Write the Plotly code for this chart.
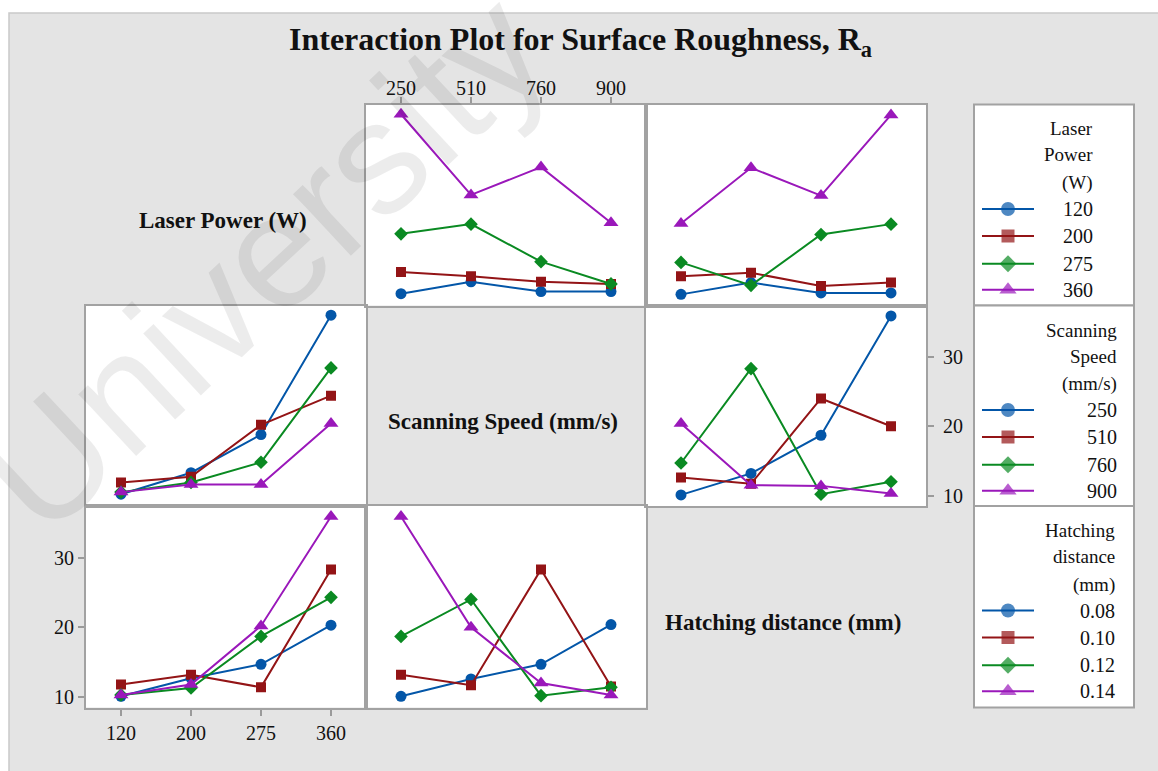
import plotly.graph_objects as go

W, H = 1158, 771

# ---------------- data (mean Ra) ----------------
laser_power = ["120", "200", "275", "360"]
scan_speed = ["250", "510", "760", "900"]
hatch_dist = ["0.08", "0.10", "0.12", "0.14"]

# rows = laser power level, cols = scanning speed level
ra_lp_ss = [
    [10.2, 11.9, 10.5, 10.5],
    [13.3, 12.7, 11.9, 11.6],
    [18.8, 20.2, 14.8, 11.6],
    [36.0, 24.4, 28.4, 20.4],
]
# rows = laser power level, cols = hatching distance level
ra_lp_hd = [
    [10.1, 11.8, 10.3, 10.3],
    [12.7, 13.2, 11.3, 11.8],
    [14.7, 11.4, 18.7, 20.2],
    [20.3, 28.3, 24.3, 35.9],
]
# rows = scanning speed level, cols = hatching distance level
ra_ss_hd = [
    [10.1, 13.2, 18.7, 35.9],
    [12.6, 11.7, 24.0, 20.0],
    [14.7, 28.3, 10.2, 12.0],
    [20.4, 11.5, 11.4, 10.3],
]

factor_names = ["Laser Power (W)", "Scanning Speed (mm/s)", "Hatching distance (mm)"]
legend_titles = ["Laser<br>Power<br>(W)", "Scanning<br>Speed<br>(mm/s)", "Hatching<br>distance<br>(mm)"]
levels = [laser_power, scan_speed, hatch_dist]
y_ticks = [10, 20, 30]


def transpose(m):
    return [list(r) for r in zip(*m)]


cell = {
    (0, 1): ra_lp_ss,
    (0, 2): ra_lp_hd,
    (1, 0): transpose(ra_lp_ss),
    (1, 2): ra_ss_hd,
    (2, 0): transpose(ra_lp_hd),
    (2, 1): transpose(ra_ss_hd),
}

# ---------------- styles / layout ----------------
colors = ["#0356A8", "#931416", "#0A8A22", "#9A18BA"]
symbols = ["circle", "square", "diamond", "triangle-up"]
panel_sizes = [11, 10, 10.5, 13]
legend_sizes = [14, 13, 13, 15]
SERIF = "Liberation Serif, Times New Roman, serif"
BG = "#E4E4E4"
BORDER = "#A2A2A2"
TXT = "#111111"

col_edges = [86, 366, 646, 926]
row_edges = [104.5, 305.5, 506, 707.5]
leg_x = (974, 1134)
leg_right = [1095, 1119, 1117]
Y_RANGE = [8.5, 37.4]


def fx(px):
    return px / W


def fy(py):
    return 1 - py / H


fig = go.Figure()
layout = dict(
    width=W, height=H,
    margin=dict(l=0, r=0, t=0, b=0),
    paper_bgcolor="white",
    plot_bgcolor="rgba(0,0,0,0)",
    showlegend=False,
    font=dict(family=SERIF, color=TXT, size=20),
)
shapes = []
annotations = []

# figure frame background
shapes.append(dict(type="rect", xref="paper", yref="paper", layer="below",
                   x0=fx(9), x1=fx(W + 10), y0=fy(13), y1=fy(H + 10),
                   fillcolor=BG, line=dict(color="#C9C9C9", width=1.5)))

for r in range(3):
    for c in range(3):
        k = r * 3 + 1 + c
        xa = "xaxis" if k == 1 else f"xaxis{k}"
        ya = "yaxis" if k == 1 else f"yaxis{k}"
        xref = "x" if k == 1 else f"x{k}"
        yref = "y" if k == 1 else f"y{k}"
        xd = [fx(col_edges[c]), fx(col_edges[c + 1])]
        yd = [fy(row_edges[r + 1]), fy(row_edges[r])]
        xax = dict(domain=xd, anchor=yref, showgrid=False, zeroline=False,
                   showline=True, mirror=True, linecolor=BORDER, linewidth=2,
                   ticks="", showticklabels=False, fixedrange=True)
        yax = dict(domain=yd, anchor=xref, range=Y_RANGE, showgrid=False, zeroline=False,
                   showline=True, mirror=True, linecolor=BORDER, linewidth=2,
                   ticks="", showticklabels=False, fixedrange=True)
        if r == c:
            xax.update(type="linear", range=[-0.5, len(levels[c]) - 0.5])
            annotations.append(dict(
                xref="paper", yref="paper",
                x=fx((col_edges[c] + col_edges[c + 1]) / 2 - 3),
                y=fy((row_edges[r] + row_edges[r + 1]) / 2 + 16),
                text=f"<b>{factor_names[r]}</b>", showarrow=False,
                font=dict(family=SERIF, size=23, color=TXT),
                xanchor="center", yanchor="middle"))
        else:
            xax.update(type="category", categoryorder="array",
                       categoryarray=levels[c], range=[-0.5, len(levels[c]) - 0.5])
            shapes.append(dict(type="rect", xref="paper", yref="paper", layer="below",
                               x0=xd[0], x1=xd[1], y0=yd[0], y1=yd[1],
                               fillcolor="white", line=dict(width=0)))
            m = cell[(r, c)]
            for i, row_vals in enumerate(m):
                fig.add_trace(go.Scatter(
                    x=levels[c], y=row_vals, xaxis=xref, yaxis=yref,
                    mode="lines+markers", name=levels[r][i],
                    line=dict(color=colors[i], width=2),
                    marker=dict(symbol=symbols[i], size=panel_sizes[i], color=colors[i],
                                line=dict(width=0)),
                    hoverinfo="skip"))
        tick_style = dict(ticks="outside", ticklen=6, tickwidth=1.5, tickcolor="#9A9A9A",
                          showticklabels=True, tickfont=dict(family=SERIF, size=20, color=TXT))
        # y ticks: rows 1 & 3 on the left of column 1, row 2 on the right of column 3
        if (r in (0, 2) and c == 0):
            yax.update(tick_style, tickvals=y_ticks, side="left")
        if r == 1 and c == 2:
            yax.update(tick_style, tickvals=y_ticks, side="right", ticklabelstandoff=5)
        # x ticks: column 2 on top of row 1, columns 1 & 3 below row 3
        if r == 0 and c == 1:
            xax.update(tick_style, side="top", ticklabelstandoff=-6)
        if r == 2 and c == 0:
            xax.update(tick_style, side="bottom")
        if r == 2 and c == 2:
            xax.update(tick_style, side="bottom",
                       tickvals=list(range(len(levels[c]))), ticktext=levels[c])
        layout[xa] = xax
        layout[ya] = yax

# overlay axis (pixel coordinates) for legend keys
layout["xaxis10"] = dict(domain=[0, 1], range=[0, W], visible=False, anchor="y10", fixedrange=True)
layout["yaxis10"] = dict(domain=[0, 1], range=[H, 0], visible=False, anchor="x10", fixedrange=True)

title_off = [24.5, 50.5, 78.5]
entry_off = [104.5, 131.5, 159.3, 185.3]
for r in range(3):
    top, bot = row_edges[r], row_edges[r + 1]
    shapes.append(dict(type="rect", xref="paper", yref="paper", layer="below",
                       x0=fx(leg_x[0]), x1=fx(leg_x[1]), y0=fy(bot), y1=fy(top),
                       fillcolor="white", line=dict(color=BORDER, width=2)))
    for j, line in enumerate(legend_titles[r].split("<br>")):
        annotations.append(dict(xref="paper", yref="paper", x=fx(leg_right[r]),
                                y=fy(top + title_off[j]), text=line, showarrow=False,
                                xanchor="right", yanchor="middle",
                                font=dict(family=SERIF, size=19, color=TXT)))
    for i, lab in enumerate(levels[r]):
        yy = top + entry_off[i]
        annotations.append(dict(xref="paper", yref="paper", x=fx(leg_right[r]),
                                y=fy(yy), text=lab, showarrow=False,
                                xanchor="right", yanchor="middle",
                                font=dict(family=SERIF, size=20, color=TXT)))
        fig.add_trace(go.Scatter(
            x=[982, 1008, 1034], y=[yy, yy, yy], xaxis="x10", yaxis="y10",
            mode="lines+markers", line=dict(color=colors[i], width=2),
            marker=dict(symbol=symbols[i], size=[0, legend_sizes[i], 0], color=colors[i],
                        line=dict(width=0)),
            hoverinfo="skip", showlegend=False))

# title
annotations.append(dict(xref="paper", yref="paper", x=fx(580), y=fy(41),
                        text="<b>Interaction Plot for Surface Roughness, R<sub>a</sub></b>",
                        showarrow=False, xanchor="center", yanchor="middle",
                        font=dict(family=SERIF, size=32, color=TXT)))
# watermark
annotations.append(dict(xref="paper", yref="paper", x=fx(262), y=fy(262),
                        text="University", showarrow=False, textangle=-43,
                        xanchor="center", yanchor="middle",
                        font=dict(family="Liberation Sans, Arial, sans-serif", size=160,
                                  color="rgba(0,0,0,0.075)")))

layout["shapes"] = shapes
layout["annotations"] = annotations
fig.update_layout(**layout)
fig.write_html("out.html", config={"displayModeBar": False},
               post_script="document.body.style.margin='0';document.body.style.overflow='hidden';")
